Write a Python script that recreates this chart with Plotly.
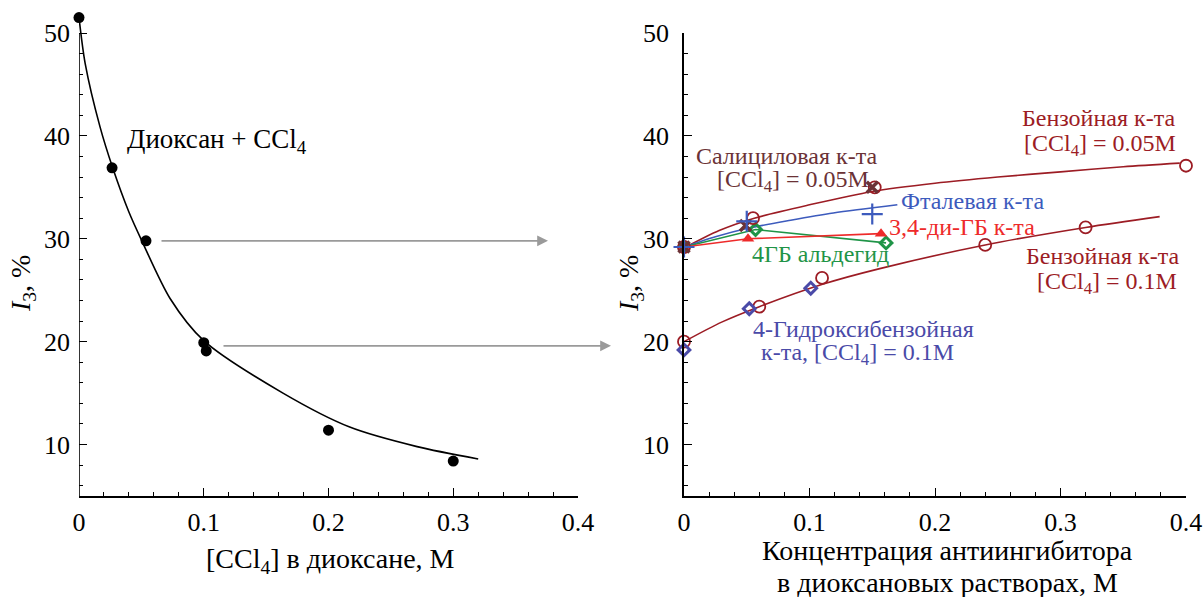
import plotly.graph_objects as go

W, H = 1204, 597
FONT = "Liberation Serif"

# ---------- left panel data ----------
ccl4_x = [0.0, 0.0265, 0.0537, 0.100, 0.102, 0.200, 0.300]
ccl4_y = [51.5, 36.9, 29.8, 19.9, 19.1, 11.4, 8.4]
fit_x = [0.0, 0.005, 0.0168, 0.027, 0.040, 0.050, 0.073, 0.100, 0.1635, 0.217, 0.271, 0.320]
fit_y = [51.5, 47.0, 40.9, 36.9, 32.6, 29.9, 24.2, 20.1, 15.0, 11.7, 9.8, 8.6]

# ---------- right panel data ----------
benz05_x = [0.0, 0.055, 0.152, 0.400]
benz05_y = [29.2, 32.0, 35.0, 37.1]
benz05_fit_x = [0.0, 0.028, 0.056, 0.100, 0.150, 0.200, 0.250, 0.300, 0.350, 0.395]
benz05_fit_y = [29.1, 30.8, 32.0, 33.3, 34.6, 35.4, 36.0, 36.5, 37.0, 37.35]

sal_x = [0.0, 0.049, 0.150]
sal_y = [29.2, 31.3, 35.0]

phth_x = [0.0, 0.050, 0.150]
phth_y = [29.2, 31.7, 32.4]
phth_fit_x = [0.0, 0.025, 0.050, 0.085, 0.119, 0.170]
phth_fit_y = [29.2, 30.2, 31.0, 31.8, 32.5, 33.3]

dgb_x = [0.0, 0.051, 0.157]
dgb_y = [29.2, 30.0, 30.5]

ald_x = [0.0, 0.057, 0.161]
ald_y = [29.2, 30.9, 29.6]

benz1_x = [0.0, 0.060, 0.110, 0.240, 0.320]
benz1_y = [20.0, 23.4, 26.2, 29.4, 31.1]
benz1_fit_x = [0.0, 0.030, 0.060, 0.111, 0.156, 0.240, 0.320, 0.379]
benz1_fit_y = [20.0, 21.9, 23.4, 25.6, 27.1, 29.4, 31.1, 32.15]

hb_x = [0.0, 0.052, 0.101]
hb_y = [19.2, 23.2, 25.2]

x_ticks = [0, 0.1, 0.2, 0.3, 0.4]
x_ticktext = ["0", "0.1", "0.2", "0.3", "0.4"]
x_minor = [i / 50 for i in range(1, 20) if i % 5 != 0]
y_ticks = [10, 20, 30, 40, 50]
y_minor = [v for v in range(6, 50, 2) if v % 10 != 0]

C_BENZ = "#9c1c24"
C_SAL = "#6b3236"
C_PHTH = "#3d5bbd"
C_DGB = "#ee2a2a"
C_ALD = "#1f9447"
C_HB = "#4a4aa8"

fig = go.Figure()

# left
fig.add_trace(go.Scatter(x=fit_x, y=fit_y, mode="lines", line=dict(color="black", width=1.6, shape="spline", smoothing=0.8),
                         xaxis="x", yaxis="y", showlegend=False, hoverinfo="skip"))
fig.add_trace(go.Scatter(x=ccl4_x, y=ccl4_y, mode="markers", marker=dict(color="black", size=11),
                         xaxis="x", yaxis="y", showlegend=False, cliponaxis=False))

# right curves
for fx, fy, col in [(benz05_fit_x, benz05_fit_y, C_BENZ), (benz1_fit_x, benz1_fit_y, C_BENZ),
                    (phth_fit_x, phth_fit_y, C_PHTH)]:
    fig.add_trace(go.Scatter(x=fx, y=fy, mode="lines", line=dict(color=col, width=1.6, shape="spline", smoothing=0.8),
                             xaxis="x2", yaxis="y2", showlegend=False))
fig.add_trace(go.Scatter(x=ald_x, y=ald_y, mode="lines+markers", line=dict(color=C_ALD, width=1.6),
                         marker=dict(symbol="diamond-open", size=9, color=C_ALD, line=dict(color=C_ALD, width=3)),
                         xaxis="x2", yaxis="y2", showlegend=False, cliponaxis=False))
fig.add_trace(go.Scatter(x=dgb_x, y=dgb_y, mode="lines+markers", line=dict(color=C_DGB, width=1.6),
                         marker=dict(symbol="triangle-up", size=11, color=C_DGB),
                         xaxis="x2", yaxis="y2", showlegend=False, cliponaxis=False))
fig.add_trace(go.Scatter(x=benz05_x, y=benz05_y, mode="markers",
                         marker=dict(symbol="circle-open", size=12, color=C_BENZ, line=dict(width=1.8)),
                         xaxis="x2", yaxis="y2", showlegend=False, cliponaxis=False))
fig.add_trace(go.Scatter(x=benz1_x, y=benz1_y, mode="markers",
                         marker=dict(symbol="circle-open", size=12, color=C_BENZ, line=dict(width=1.8)),
                         xaxis="x2", yaxis="y2", showlegend=False, cliponaxis=False))
fig.add_trace(go.Scatter(x=hb_x, y=hb_y, mode="markers",
                         marker=dict(symbol="diamond-open", size=9, color=C_HB, line=dict(color=C_HB, width=3)),
                         xaxis="x2", yaxis="y2", showlegend=False, cliponaxis=False))
fig.add_trace(go.Scatter(x=sal_x, y=sal_y, mode="markers",
                         marker=dict(symbol="x-thin", size=11, color=C_SAL, line=dict(color=C_SAL, width=3.5)),
                         xaxis="x2", yaxis="y2", showlegend=False, cliponaxis=False))
fig.add_trace(go.Scatter(x=phth_x, y=phth_y, mode="markers",
                         marker=dict(symbol="cross-thin", size=15, color=C_PHTH, line=dict(color=C_PHTH, width=2.2)),
                         xaxis="x2", yaxis="y2", showlegend=False, cliponaxis=False))

# pixel geometry
PX_PER_UNIT = (496 - 33) / 45.0
xd1 = [79 / W, 578 / W]
xd2 = [684 / W, 1186 / W]
yd2 = [1 - 496 / H, 1 - 33 / H]
top1 = 33 - 2 * PX_PER_UNIT       # left range tops at 52 so the 51.5 point shows
yd1 = [1 - 496 / H, 1 - top1 / H]

axis_common = dict(
    linecolor="black", linewidth=1.6, mirror=False, automargin=False,
    ticks="inside", ticklen=8, tickwidth=1.4, tickcolor="black",
    showgrid=False, zeroline=False,
    tickfont=dict(family=FONT, size=26, color="black"),
)
xaxis_common = dict(axis_common, showline=True, range=[0, 0.4], tickvals=x_ticks, ticktext=x_ticktext,
                    minor=dict(tickvals=x_minor, ticks="inside", ticklen=4, tickwidth=1.2, tickcolor="black"),
                    ticklabelstandoff=2)
yaxis_common = dict(axis_common, tickvals=y_ticks,
                    minor=dict(tickvals=y_minor, ticks="inside", ticklen=4, tickwidth=1.2, tickcolor="black"),
                    ticklabelstandoff=8)

fig.update_layout(
    width=W, height=H,
    margin=dict(l=0, r=0, t=0, b=0),
    paper_bgcolor="white", plot_bgcolor="white",
    font=dict(family=FONT),
    xaxis=dict(xaxis_common, domain=xd1, anchor="y"),
    yaxis=dict(yaxis_common, domain=yd1, anchor="x", range=[5, 52], showline=False),
    xaxis2=dict(xaxis_common, domain=xd2, anchor="y2"),
    yaxis2=dict(yaxis_common, domain=yd2, anchor="x2", range=[5, 50], showline=True),
)

# left y-axis line only up to 50
fig.add_shape(type="line", xref="x", yref="y", x0=0, x1=0, y0=5, y1=50,
              line=dict(color="black", width=1.6))

def px(xp, yp, text, size=24, color="black", angle=0):
    fig.add_annotation(x=xp / W, y=1 - yp / H, xref="paper", yref="paper", text=text, showarrow=False,
                       font=dict(family=FONT, size=size, color=color), textangle=angle,
                       xanchor="center", yanchor="middle")

# axis titles
px(330, 560, "[CCl<sub>4</sub>] в диоксане, М", size=28)
px(947, 550, "Концентрация антиингибитора", size=28)
px(947, 582, "в диоксановых растворах, М", size=28)
px(22, 284, "<i>I</i><sub>3</sub>, %", size=28, angle=-90)
px(630, 284, "<i>I</i><sub>3</sub>, %", size=28, angle=-90)

# left label
px(217, 141, "Диоксан + CCl<sub>4</sub>", size=27)

# right labels
px(786, 156, "Салициловая к-та", color=C_SAL)
px(793, 181, "[CCl<sub>4</sub>] = 0.05M", color=C_SAL)
px(1098, 118, "Бензойная к-та", color=C_BENZ)
px(1100, 145, "[CCl<sub>4</sub>] = 0.05M", color=C_BENZ)
px(972, 201, "Фталевая к-та", color=C_PHTH)
px(962, 227, "3,4-ди-ГБ к-та", color=C_DGB)
px(820, 254, "4ГБ альдегид", color=C_ALD)
px(1102, 256, "Бензойная к-та", color=C_BENZ)
px(1107, 283, "[CCl<sub>4</sub>] = 0.1M", color=C_BENZ)
px(863, 329, "4-Гидроксибензойная", color=C_HB)
px(858, 354, "к-та, [CCl<sub>4</sub>] = 0.1M", color=C_HB)

# gray arrows
for tip_x, y_val, tail_x in [(548, 29.8, 160), (611, 19.6, 222)]:
    fig.add_annotation(x=tip_x / W, y=y_val, xref="paper", yref="y", ax=-(tip_x - tail_x), ay=0,
                       text="", showarrow=True, arrowhead=2, arrowsize=1.2, arrowwidth=1.8, arrowcolor="#9a9a9a")

fig.write_html("out.html")
